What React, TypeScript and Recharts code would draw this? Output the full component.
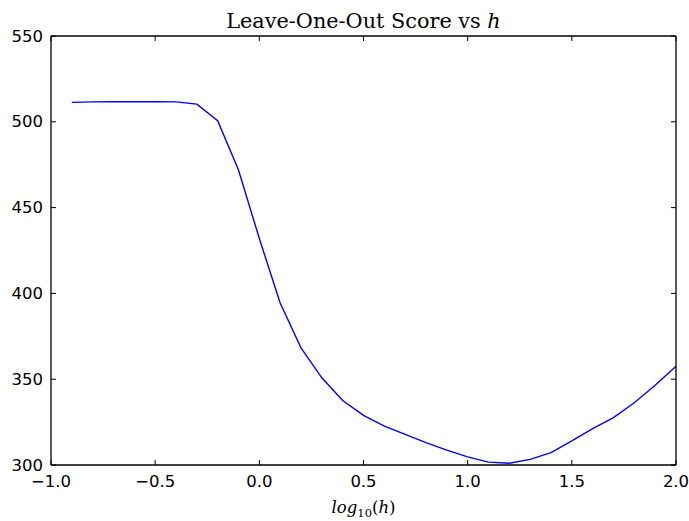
import React from "react";
import { LineChart, Line, XAxis, YAxis, Label } from "recharts";

// log10(h) sampled every 0.1
const logH = [
  -0.9, -0.8, -0.7, -0.6, -0.5, -0.4, -0.3, -0.2, -0.1, 0.0,
  0.1, 0.2, 0.3, 0.4, 0.5, 0.6, 0.7, 0.8, 0.9, 1.0,
  1.1, 1.2, 1.3, 1.4, 1.5, 1.6, 1.7, 1.8, 1.9, 2.0,
];
const looScore = [
  511.3, 511.6, 511.7, 511.7, 511.7, 511.6, 510.3, 500.6, 471.9, 432.0,
  394.4, 368.3, 350.8, 337.6, 328.9, 322.7, 317.9, 313.0, 308.7, 304.7,
  301.7, 301.0, 303.3, 307.2, 314.0, 321.2, 327.6, 336.3, 346.5, 357.6,
];
const xTicks = [-1.0, -0.5, 0.0, 0.5, 1.0, 1.5, 2.0];
const yTicks = [300, 350, 400, 450, 500, 550];

const data = logH.map((x, i) => ({ x, score: looScore[i] }));

const SANS = "DejaVu Sans, sans-serif";
const SERIF = "DejaVu Serif, serif";
const TICK_LEN = 5;

const fmtX = (v: number) => (v < 0 ? "\u2212" + Math.abs(v).toFixed(1) : v.toFixed(1));

const BottomTick = (props: any) => {
  const { x, y, payload } = props;
  return (
    <g>
      <line x1={x} x2={x} y1={y} y2={y - TICK_LEN} stroke="#000" />
      <text x={x} y={y + 16} textAnchor="middle" dominantBaseline="central" fontFamily={SANS} fontSize={16.5} fill="#000">
        {fmtX(payload.value)}
      </text>
    </g>
  );
};

const LeftTick = (props: any) => {
  const { x, y, payload } = props;
  return (
    <g>
      <line x1={x} x2={x + TICK_LEN} y1={y} y2={y} stroke="#000" />
      <text x={x - 8} y={y} textAnchor="end" dominantBaseline="central" fontFamily={SANS} fontSize={16.5} fill="#000">
        {payload.value}
      </text>
    </g>
  );
};

const TopTick = (props: any) => {
  const { x, y } = props;
  return <line x1={x} x2={x} y1={y} y2={y + TICK_LEN} stroke="#000" />;
};

const RightTick = (props: any) => {
  const { x, y } = props;
  return <line x1={x} x2={x - TICK_LEN} y1={y} y2={y} stroke="#000" />;
};

const Title = (props: any) => {
  const { viewBox } = props;
  const cx = viewBox.x + viewBox.width / 2;
  return (
    <text x={cx} y={28} textAnchor="middle" fontFamily={SERIF} fontSize={20.8} fill="#000">
      Leave-One-Out Score vs <tspan fontStyle="italic">h</tspan>
    </text>
  );
};

const XTitle = (props: any) => {
  const { viewBox } = props;
  const cx = viewBox.x + viewBox.width / 2;
  return (
    <text x={cx} y={viewBox.y + 48} textAnchor="middle" fontFamily={SERIF} fontSize={16.5} fill="#000">
      <tspan fontStyle="italic">log</tspan>
      <tspan fontSize={11.5} dy={4}>10</tspan>
      <tspan dy={-4}>(</tspan>
      <tspan fontStyle="italic">h</tspan>
      <tspan>)</tspan>
    </text>
  );
};

export default function App() {
  return (
    <div style={{ position: "absolute", left: 0, top: 0, background: "#fff" }}>
      <LineChart width={689} height={521} data={data} margin={{ top: 35, right: 12, bottom: 0, left: 0 }}>
        <XAxis
          dataKey="x"
          type="number"
          domain={[-1, 2]}
          ticks={xTicks}
          height={56}
          tickSize={0}
          tickMargin={0}
          tickLine={false}
          tick={<BottomTick />}
          axisLine={{ stroke: "#000", strokeWidth: 1.3 }}
          interval={0}
        >
          <Label content={<XTitle />} />
        </XAxis>
        <XAxis
          xAxisId="top"
          dataKey="x"
          orientation="top"
          type="number"
          domain={[-1, 2]}
          ticks={xTicks}
          height={1}
          tickSize={0}
          tickMargin={0}
          tickLine={false}
          tick={<TopTick />}
          axisLine={{ stroke: "#000", strokeWidth: 1.3 }}
          interval={0}
        >
          <Label content={<Title />} />
        </XAxis>
        <YAxis
          type="number"
          domain={[300, 550]}
          ticks={yTicks}
          width={51}
          tickSize={0}
          tickMargin={0}
          tickLine={false}
          tick={<LeftTick />}
          axisLine={{ stroke: "#000", strokeWidth: 1.3 }}
          interval={0}
        />
        <YAxis
          yAxisId="right"
          orientation="right"
          type="number"
          domain={[300, 550]}
          ticks={yTicks}
          width={1}
          tickSize={0}
          tickMargin={0}
          tickLine={false}
          tick={<RightTick />}
          axisLine={{ stroke: "#000", strokeWidth: 1.3 }}
          interval={0}
        />
        {/* invisible twin so the top/right frame axes get drawn */}
        <Line
          xAxisId="top"
          yAxisId="right"
          type="linear"
          dataKey="score"
          stroke="none"
          dot={false}
          activeDot={false}
          isAnimationActive={false}
        />
        <Line
          type="linear"
          dataKey="score"
          stroke="#0000ff"
          strokeWidth={1.4}
          dot={false}
          activeDot={false}
          isAnimationActive={false}
        />
      </LineChart>
    </div>
  );
}
